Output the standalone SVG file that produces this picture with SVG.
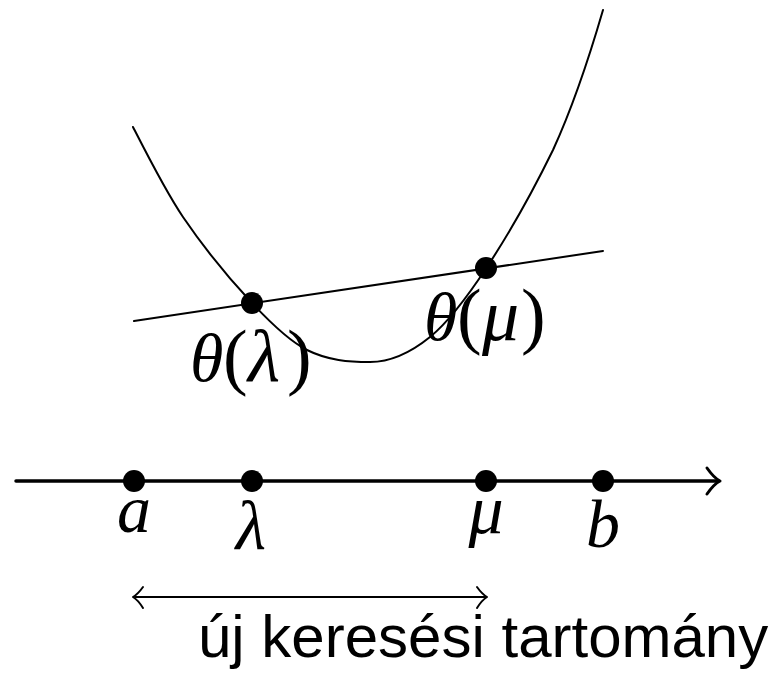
<svg xmlns="http://www.w3.org/2000/svg" width="782" height="675" viewBox="0 0 782 675">
<style>
.ln{fill:none;stroke:#000;stroke-linecap:round;stroke-linejoin:round}
.m{font-family:"Liberation Serif","DejaVu Serif",serif;font-style:italic;fill:#000;font-size:68px}
.g{font-size:74px}
.g2{font-size:70px}
.up{font-style:normal;font-size:74px}
.t{font-family:"Liberation Sans",Arial,sans-serif;fill:#000}
</style>
<rect width="782" height="675" fill="#fff"/>
<g id="connectors">
<path id="curve" class="ln" stroke-width="2" d="M133,127 C149.7,159.7 166.3,192.5 183,217 C206,250.8 229,278.4 252,303 C270.3,322.6 288.7,340.8 307,350 C328,360.5 349,362 370,362 C390,362 410,353.2 430,337 C449,321.6 468,295.9 487,267 C509,233.6 531,195 553,150 C570,113 587,65 603,10"/>
<line id="secant" class="ln" stroke-width="2" x1="134" y1="321" x2="603" y2="251"/>
<line id="axis" class="ln" stroke-width="3.5" x1="16" y1="481" x2="718" y2="481"/>
<path id="axis-head" class="ln" stroke-width="3" d="M707,468 Q714,478 720,481 Q714,484 707,494"/>
<line id="range" class="ln" stroke-width="2" x1="135" y1="597" x2="486" y2="597"/>
<path class="ln" stroke-width="2" d="M143,587 Q138,594 133,597 Q138,600 143,608"/>
<path class="ln" stroke-width="2" d="M477,587 Q482,594 487,597 Q482,600 477,608"/>
</g>
<g id="p-lambda"><circle cx="252" cy="303" r="11"/></g>
<g id="p-mu"><circle cx="486" cy="268" r="11"/></g>
<g id="label-theta-lambda"><text class="m" y="381"><tspan x="190">θ</tspan><tspan class="up" x="223">(</tspan><tspan class="g" x="248">λ</tspan><tspan class="up" x="287">)</tspan></text></g>
<g id="label-theta-mu"><text class="m" y="340"><tspan x="424">θ</tspan><tspan class="up" x="457">(</tspan><tspan class="g" x="482">μ</tspan><tspan class="up" x="521">)</tspan></text></g>
<g id="a"><circle cx="134" cy="481" r="11"/><text class="m" x="134" y="532" text-anchor="middle">a</text></g>
<g id="lambda"><circle cx="252" cy="481" r="11"/><text class="m g2" x="251" y="549" text-anchor="middle">λ</text></g>
<g id="mu"><circle cx="486" cy="481" r="11"/><text class="m g2" x="486" y="533" text-anchor="middle">μ</text></g>
<g id="b"><circle cx="603" cy="481" r="11"/><text class="m" x="603" y="547" font-size="72" text-anchor="middle">b</text></g>
<g id="caption"><text class="t" x="198" y="657" font-size="60">új keresési tartomány</text></g>
</svg>
